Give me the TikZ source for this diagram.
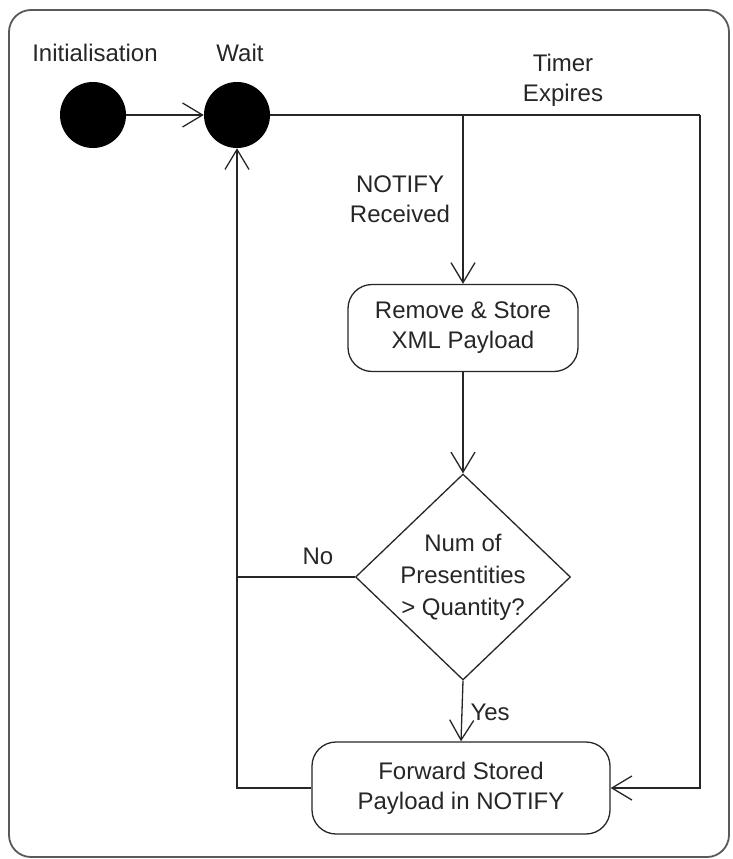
\documentclass[tikz,border=0pt]{standalone}
\usepackage{fontspec}
\setmainfont{Liberation Sans}
\usetikzlibrary{arrows.meta,shapes.geometric}
\begin{document}
\begin{tikzpicture}[x=1pt,y=-1pt,
  every node/.style={font=\fontsize{24}{30}\selectfont, text=black!85},
  flowline/.style={line width=1.3pt, draw=black!85},
  arr/.style={flowline, -{Straight Barb[length=20pt,width=24pt,line width=1.3pt]}},
  statedot/.style={circle, fill=black, minimum size=66pt, inner sep=0pt},
  action/.style={draw=black!85, line width=1.3pt, rounded corners=24pt, align=center},
  choice/.style={diamond, draw=black!85, line width=1.3pt, inner sep=0pt},
  lbl/.style={align=center}]
\useasboundingbox (0,0) rectangle (732,859);
% outer frame
\draw[line width=1.8pt, draw=black!65, rounded corners=22pt] (9,10) rectangle (729,857);

% states
\node[statedot] (init) at (93,115) {};
\node[statedot] (wait) at (237,115) {};
\node[lbl] at (95,53) {Initialisation};
\node[lbl] at (240,53) {Wait};

% actions and decision
\node[action, minimum width=230pt, minimum height=87pt] (remove) at (463,328) {Remove \& Store\\XML Payload};
\node[choice, minimum width=215pt, minimum height=206pt] (decide) at (463,577) {};
\node[lbl, font=\fontsize{24}{32}\selectfont] (decidetext) at (decide) {Num of\\Presentities\\> Quantity?};
\node[action, minimum width=298pt, minimum height=92pt] (forward) at (461,788) {Forward Stored\\Payload in NOTIFY};

% junction points
\coordinate (split) at (remove.north |- wait.east);
\coordinate (corner) at (700,115);
\coordinate (timerdown) at (corner |- forward.east);
\coordinate (leftbottom) at (wait.south |- forward.west);
\coordinate (leftmid) at (wait.south |- decide.west);

% connectors
\draw[arr] (init) -- (wait);
\draw[flowline] (wait.east) -- (corner);
\draw[arr] (corner) -- (timerdown) -- (forward.east);
\draw[arr] (split) -- (remove.north);
\draw[arr] (remove.south) -- (decide.north);
\draw[arr] (decide.south) -- (forward.north);
\draw[arr] (forward.west) -- (leftbottom) -- (wait.south);
\draw[flowline] (decide.west) -- (leftmid);

% connector labels
\node[lbl] at (563,80) {Timer\\Expires};
\node[lbl] at (400,199) {NOTIFY\\Received};
\node[lbl] at (318,556) {No};
\node[lbl, anchor=west] at (467,712) {Yes};
\end{tikzpicture}
\end{document}
